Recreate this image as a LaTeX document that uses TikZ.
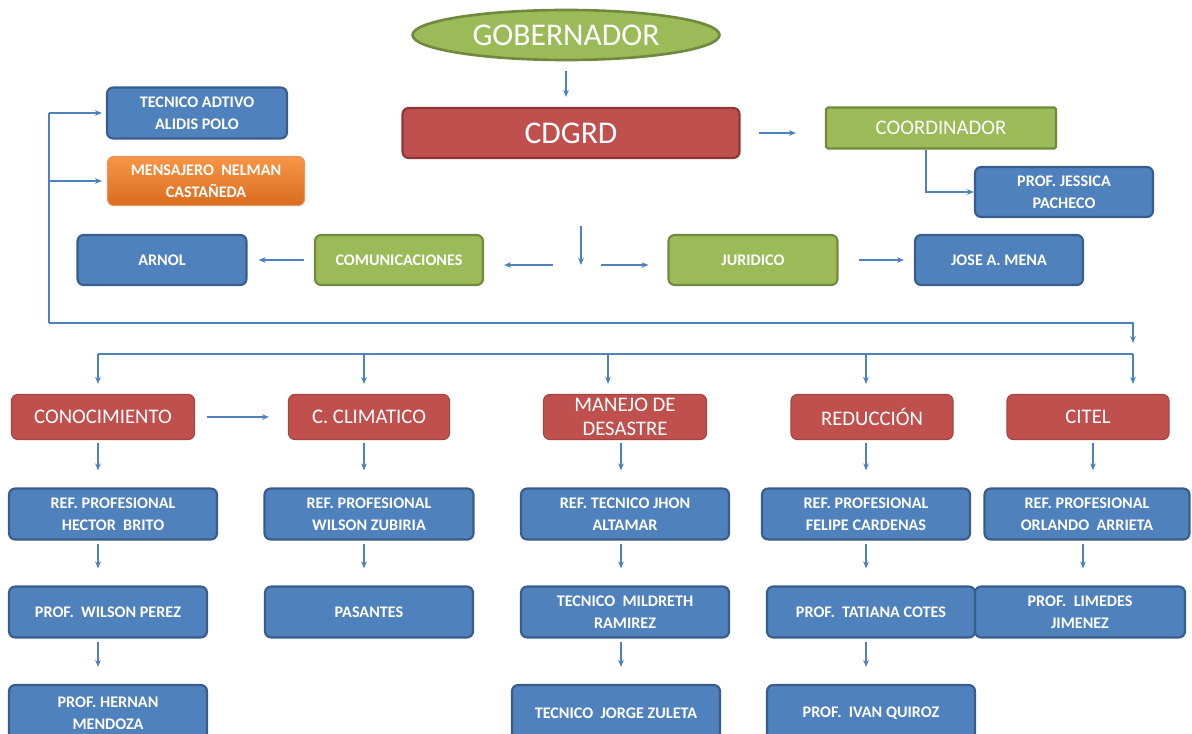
\documentclass[tikz,border=0pt]{standalone}
\usepackage{fontspec}
\setmainfont{Carlito}
\usepackage{xcolor}
\usetikzlibrary{shapes.geometric,positioning,arrows.meta}

\definecolor{azul}{HTML}{4F81BD}
\definecolor{azulb}{HTML}{385D8A}
\definecolor{rojo}{HTML}{C0504D}
\definecolor{rojob}{HTML}{8C3836}
\definecolor{verde}{HTML}{9BBB59}
\definecolor{verdeb}{HTML}{71893F}
\definecolor{naranja}{HTML}{F79646}
\definecolor{naranjab}{HTML}{DA6C1E}

\begin{document}
\begin{tikzpicture}[x=0.02cm, y=-0.02cm, >={Stealth[length=4pt,width=3.2pt]},
  flecha/.style={->, draw=azul, line width=0.7pt},
  linea/.style={draw=azul, line width=0.7pt},
  tam/.style 2 args={minimum width=#1*0.02cm, minimum height=#2*0.02cm},
  caja/.style={rectangle, rounded corners=3.5pt, inner sep=1pt, align=center, text=white, line width=1.2pt},
  azulcaja/.style={caja, fill=azul, draw=azulb, font=\fontsize{9.2}{12.5}\selectfont\bfseries},
  rojacaja/.style={caja, fill=rojo, draw=rojob!50!rojo, line width=0.6pt, font=\fontsize{11.8}{14}\selectfont},
  verdecaja/.style={caja, fill=verde, draw=verdeb, font=\fontsize{9.2}{12}\selectfont\bfseries}]

  \useasboundingbox (0,0) rectangle (1192,733);
  \clip (0,0) rectangle (1192,733);

  % cabeza
  \node[ellipse, fill=verde, draw=verdeb, line width=1.5pt, tam={307}{50}, inner sep=0pt,
        text=white, font=\fontsize{18}{20}\selectfont] (gob) at (566,35) {GOBERNADOR};
  \node[rojacaja, draw=rojob, line width=1.2pt, tam={337}{50}, font=\fontsize{18}{20}\selectfont] (cdgrd) at (571,133) {CDGRD};
  \node[verdecaja, rounded corners=1pt, tam={230}{41}, font=\fontsize{11.8}{13}\selectfont] (coord) at (941,128) {COORDINADOR};
  \node[azulcaja, tam={178}{50}] (jessica) at (1064,192) {PROF. JESSICA\\PACHECO};
  \node[azulcaja, tam={180}{51}] (tecnico) at (197,113) {TECNICO ADTIVO\\ALIDIS POLO};
  \node[caja, top color=naranja, bottom color=naranjab, draw=naranjab!70, line width=0.6pt,
        font=\fontsize{9.2}{12.5}\selectfont\bfseries, tam={197}{49}] (mensajero) at (206,181) {MENSAJERO\ \ NELMAN\\CASTAÑEDA};

  \node[azulcaja, tam={169}{50}] (arnol) at (162,260) {ARNOL};
  \node[verdecaja, tam={168}{50}] (comunic) at (399,260) {COMUNICACIONES};
  \node[verdecaja, tam={169}{50}] (juridico) at (753,260) {JURIDICO};
  \node[azulcaja, tam={168}{50}] (mena) at (999,260) {JOSE A. MENA};

  \coordinate (ejetop) at (581,226);
  \coordinate (eje) at (581,265);

  \draw[flecha, shorten <=0.2cm, shorten >=0.2cm] (gob.south) -- (gob.south |- cdgrd.north);
  \draw[flecha, shorten <=0.36cm, shorten >=0.58cm] (cdgrd.east) -- (coord.west |- cdgrd.east);
  \draw[flecha] (coord.south) ++(-15,0) |- (jessica.west);
  \draw[flecha] (ejetop) -- (eje);
  \draw[flecha, shorten <=0.56cm, shorten >=0.4cm] (eje) -- (eje -| comunic.east);
  \draw[flecha, shorten <=0.4cm, shorten >=0.38cm] (eje) -- (eje -| juridico.west);
  \draw[flecha, shorten <=0.2cm, shorten >=0.22cm] (comunic.west) -- (arnol.east);
  \draw[flecha, shorten <=0.4cm, shorten >=0.2cm] (juridico.east) -- (mena.west);

  % corchete izquierdo
  \coordinate (esq) at (49,323);
  \coordinate (esqder) at (1133,323);
  \draw[linea] (esq) -- (esq |- tecnico.west);
  \draw[flecha, shorten >=0.08cm] (esq |- tecnico.west) -- (tecnico.west);
  \draw[flecha, shorten >=0.1cm] (esq |- mensajero.west) -- (mensajero.west);
  \draw[flecha] (esq) -- (esqder) -- ++(0,20);

  % areas
  \node[rojacaja, tam={183}{45}] (conocim) at (103,417) {CONOCIMIENTO};
  \node[rojacaja, tam={161}{45}] (climatico) at (369,417) {C. CLIMATICO};
  \node[rojacaja, tam={163}{45}] (manejo) at (625,417) {MANEJO DE\\DESASTRE};
  \node[rojacaja, tam={162}{45}] (reduccion) at (872,417) {REDUCCIÓN};
  \node[rojacaja, tam={162}{45}] (citel) at (1088,417) {CITEL};

  \coordinate (bus) at (98,354);
  \coordinate (busder) at (1133,354);
  \draw[linea] (bus) -- (busder);
  \foreach \n/\x in {conocim/98, climatico/364, manejo/608, reduccion/866, citel/1133}
    \draw[flecha, shorten >=0.2cm] (\x,354) -- (\x,0 |- \n.north);
  \draw[flecha, shorten <=0.24cm, shorten >=0.38cm] (conocim.east) -- (climatico.west);

  % personal
  \node[azulcaja, tam={208}{51}] (brito) at (113,514) {REF. PROFESIONAL\\HECTOR\ \ BRITO};
  \node[azulcaja, tam={209}{51}] (zubiria) at (369,514) {REF. PROFESIONAL\\WILSON ZUBIRIA};
  \node[azulcaja, tam={208}{51}] (altamar) at (625,514) {REF. TECNICO JHON\\ALTAMAR};
  \node[azulcaja, tam={208}{51}] (cardenas) at (866,514) {REF. PROFESIONAL\\FELIPE CARDENAS};
  \node[azulcaja, tam={205}{51}] (arrieta) at (1087,514) {REF. PROFESIONAL\\ORLANDO\ \ ARRIETA};

  \node[azulcaja, tam={198}{51}] (perez) at (108,612) {PROF.\ \ WILSON PEREZ};
  \node[azulcaja, tam={208}{51}] (pasantes) at (369,612) {PASANTES};
  \node[azulcaja, tam={208}{51}] (ramirez) at (625,612) {TECNICO\ \ MILDRETH\\RAMIREZ};
  \node[azulcaja, tam={208}{51}] (cotes) at (871,612) {PROF.\ \ TATIANA COTES};
  \node[azulcaja, tam={210}{51}] (jimenez) at (1080,612) {PROF.\ \ LIMEDES\\JIMENEZ};

  \node[azulcaja, tam={198}{56}] (mendoza) at (108,713) {PROF. HERNAN\\MENDOZA};
  \node[azulcaja, tam={208}{56}] (zuleta) at (616,713) {TECNICO\ \ JORGE ZULETA};
  \node[azulcaja, tam={208}{56}] (quiroz) at (871,713) {PROF.\ \ IVAN QUIROZ};

  \foreach \a/\b/\x in {conocim/brito/98, climatico/zubiria/364, manejo/altamar/621,
      reduccion/cardenas/866, citel/arrieta/1093, brito/perez/98, zubiria/pasantes/364,
      altamar/ramirez/621, cardenas/cotes/866, arrieta/jimenez/1083,
      perez/mendoza/98, ramirez/zuleta/621, cotes/quiroz/866}
    \draw[flecha, shorten <=0.06cm, shorten >=0.34cm] (\x,0 |- \a.south) -- (\x,0 |- \b.north);
\end{tikzpicture}
\end{document}
